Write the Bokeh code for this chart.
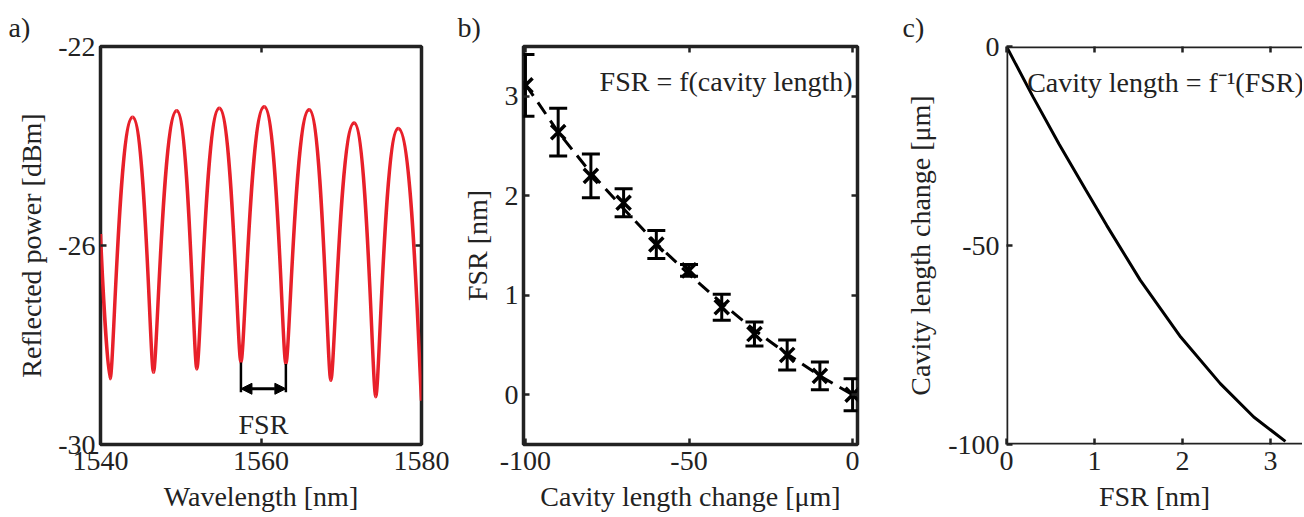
from bokeh.plotting import figure
from bokeh.layouts import row
from bokeh.models import (Arrow, NormalHead, ColumnDataSource, Span,
                          LinearAxis, FixedTicker, Range1d)
from bokeh.embed import file_html
from bokeh.resources import INLINE
from bokeh.core.properties import value

FONT = "Liberation Serif"
FS = "28px"
INK = "#222222"
RED = "#e8202a"

# ---------------- data ----------------
# a) reflection spectrum: extrema (start, troughs/peaks, end)
wl_ext = [1540.0, 1541.2, 1544.0, 1546.6, 1549.5, 1552.0, 1554.8, 1557.5,
          1560.4, 1563.1, 1566.0, 1568.7, 1571.6, 1574.3, 1577.1, 1580.0]
pw_ext = [-25.77, -28.68, -23.42, -28.55, -23.29, -28.48, -23.24, -28.35,
          -23.21, -28.38, -23.27, -28.71, -23.54, -29.04, -23.65, -29.12]
a_xticks = [1540, 1560, 1580]
a_yticks = [-30, -26, -22]
fsr_idx = [7, 9]          # the two troughs marked with the FSR arrow
fsr_arrow_y = -28.88
fsr_bar_bottom = -28.95
fsr_text_y = -29.60

# b) FSR vs cavity length change
cav = [-100, -90, -80, -70, -60, -50, -40, -30, -20, -10, 0]
fsr = [3.11, 2.64, 2.20, 1.93, 1.51, 1.25, 0.88, 0.61, 0.40, 0.19, 0.0]
fsr_err = [0.31, 0.24, 0.22, 0.14, 0.14, 0.06, 0.13, 0.12, 0.15, 0.14, 0.16]
fsr_fit = [3.12, 2.64, 2.23, 1.87, 1.52, 1.21, 0.92, 0.65, 0.41, 0.19, 0.0]
b_xticks = [-100, -50, 0]
b_yticks = [0, 1, 2, 3]

# c) inverse relation
c_fsr = [0.0, 0.30, 0.60, 0.90, 1.14, 1.52, 1.98, 2.43, 2.81, 3.17]
c_cav = [0.0, -12.6, -24.6, -36.0, -45.0, -58.7, -73.0, -84.7, -93.1, -99.2]
c_xticks = [0, 1, 2, 3]
c_yticks = [-100, -50, 0]

H = 515
TOP, BOT = 46, 71


def style_axis(ax, ticks, standoff, label_standoff):
    ax.ticker = FixedTicker(ticks=ticks)
    ax.major_label_overrides = {t: str(t) for t in ticks}
    ax.axis_line_color = None
    ax.major_tick_in = 6
    ax.major_tick_out = 0
    ax.minor_tick_line_color = None
    ax.major_tick_line_color = INK
    ax.major_tick_line_width = 2.5
    ax.major_label_text_font = FONT
    ax.major_label_text_font_size = FS
    ax.major_label_text_color = INK
    ax.major_label_standoff = standoff
    ax.axis_label_text_font = FONT
    ax.axis_label_text_font_size = FS
    ax.axis_label_text_font_style = "normal"
    ax.axis_label_text_color = INK
    ax.axis_label_standoff = label_standoff


def mirror_axis(p, ticks, side):
    ax = LinearAxis(ticker=FixedTicker(ticks=ticks))
    ax.axis_line_color = None
    ax.major_tick_in = 6
    ax.major_tick_out = 0
    ax.minor_tick_line_color = None
    ax.major_tick_line_color = INK
    ax.major_tick_line_width = 2.5
    ax.major_label_overrides = {t: " " for t in ticks}
    ax.major_label_text_font_size = "1px"
    ax.major_label_standoff = 0
    p.add_layout(ax, side)


def make_fig(width, xr, yr, bl, br, xticks, yticks, xlabel, ylabel,
             ystand, ylabstand, label, label_x, right=True, outline=True):
    p = figure(width=width, height=H, x_range=Range1d(*xr), y_range=Range1d(*yr),
               output_backend="svg", toolbar_location=None,
               min_border_left=bl, min_border_right=br,
               min_border_top=TOP, min_border_bottom=BOT,
               title=label)
    p.title.text_font = FONT
    p.title.text_font_size = FS
    p.title.text_font_style = "normal"
    p.title.text_color = INK
    p.title.align = "left"
    p.title.offset = label_x - bl
    p.title.standoff = 0
    p.grid.visible = False
    if outline:
        p.outline_line_color = INK
        p.outline_line_width = 3.5
    else:
        p.outline_line_color = None
    p.background_fill_color = "white"
    p.border_fill_color = "white"
    p.xaxis.axis_label = xlabel
    p.yaxis.axis_label = ylabel
    style_axis(p.xaxis[0], xticks, 7, 8)
    style_axis(p.yaxis[0], yticks, ystand, ylabstand)
    mirror_axis(p, xticks, "above")
    if right:
        mirror_axis(p, yticks, "right")
    return p


# ---------------- panel a ----------------
pa = make_fig(453, (1540, 1580), (-30, -22), 100, 32, a_xticks, a_yticks,
              "Wavelength [nm]", "Reflected power [dBm]", 5, 8, "a)", 8)

bx0, by0, bx1, by1, bcx0, bcy0, bcx1, bcy1 = ([] for _ in range(8))
n = len(wl_ext)
for i in range(n - 1):
    xa, ya, xb, yb = wl_ext[i], pw_ext[i], wl_ext[i + 1], pw_ext[i + 1]
    dx = xb - xa
    ka = 0.6 if ya > yb else 0.15
    kb = 0.6 if yb > ya else 0.15
    if i == 0:
        cx0, cy0 = xa + 0.35 * dx, ya + 0.55 * (yb - ya)
    else:
        cx0, cy0 = xa + ka * dx, ya
    if i == n - 2:
        cx1, cy1 = xb - 0.12 * dx, yb + 0.9
    else:
        cx1, cy1 = xb - kb * dx, yb
    bx0.append(xa); by0.append(ya); bx1.append(xb); by1.append(yb)
    bcx0.append(cx0); bcy0.append(cy0); bcx1.append(cx1); bcy1.append(cy1)

pa.bezier(x0=bx0, y0=by0, x1=bx1, y1=by1, cx0=bcx0, cy0=bcy0, cx1=bcx1, cy1=bcy1,
          line_color=RED, line_width=3.5)

fx = [wl_ext[i] for i in fsr_idx]
fy = [pw_ext[i] for i in fsr_idx]
pa.segment(x0=fx, y0=fy, x1=fx, y1=[fsr_bar_bottom] * 2, line_color="black", line_width=2.5)
pa.add_layout(Arrow(start=NormalHead(size=11, fill_color="black", line_color="black"),
                    end=NormalHead(size=11, fill_color="black", line_color="black"),
                    x_start=fx[0], y_start=fsr_arrow_y, x_end=fx[1], y_end=fsr_arrow_y,
                    line_width=3, line_color="black"))
pa.text(x=[(fx[0] + fx[1]) / 2], y=[fsr_text_y], text=["FSR"], text_font=value(FONT),
        text_font_size=FS, text_align="center", text_baseline="alphabetic", text_color=INK)

# ---------------- panel b ----------------
pb = make_fig(447, (-100.6, 1.5), (-0.5, 3.5), 70, 43, b_xticks, b_yticks,
              "Cavity length change [\u03bcm]", "FSR [nm]", 5, 9, "b)", 4)
pb.line(cav, fsr_fit, line_color="black", line_width=3, line_dash="14 8")
src = ColumnDataSource(dict(x=cav, y=fsr,
                            upper=[v + e for v, e in zip(fsr, fsr_err)],
                            lower=[v - e for v, e in zip(fsr, fsr_err)]))
pb.segment(x0="x", y0="lower", x1="x", y1="upper", source=src, line_color="black", line_width=3)
pb.scatter("x", "upper", source=src, marker="dash", size=18, line_width=3, color="black")
pb.scatter("x", "lower", source=src, marker="dash", size=18, line_width=3, color="black")
pb.scatter("x", "y", source=src, marker="x", size=20, line_width=3.5, color="black")
pb.text(x=[cav[-1]], y=[3.15], text=["FSR = f(cavity length)"], text_font=value(FONT),
        text_font_size=FS, text_align="right", text_baseline="alphabetic", text_color=INK)

# ---------------- panel c ----------------
pc = make_fig(402, (0, 3.364), (-100, 0), 106, 0, c_xticks, c_yticks,
              "FSR [nm]", "Cavity length change [\u03bcm]", 7, 9, "c)", 2,
              right=False, outline=False)
pc.add_layout(Span(location=0, dimension="height", line_color=INK, line_width=3.5))
pc.add_layout(Span(location=0, dimension="width", line_color=INK, line_width=3.5))
pc.add_layout(Span(location=-100, dimension="width", line_color=INK, line_width=3.5))
pc.line(c_fsr, c_cav, line_color="black", line_width=3)
pc.text(x=[0.235], y=[-9.1], text=["Cavity length = f\u207b\u00b9(FSR)"], text_font=value(FONT),
        text_font_size=FS, text_align="left", text_baseline="alphabetic", text_color=INK)

layout = row(pa, pb, pc)
open("out.html", "w").write(file_html(layout, INLINE))
